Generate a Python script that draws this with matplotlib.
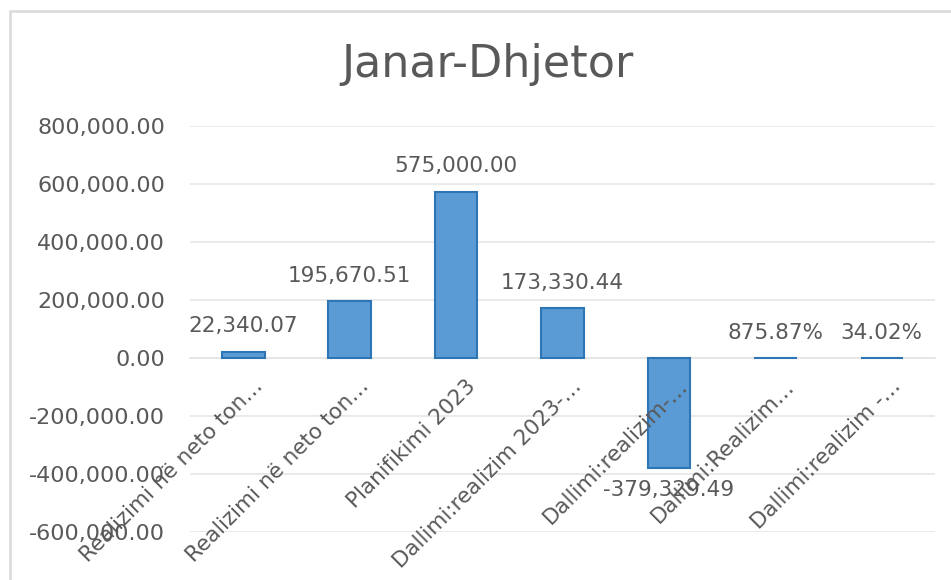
#importing the relevant modules
import matplotlib
matplotlib.use("Agg")
import matplotlib.pyplot as plt
from matplotlib.patches import Rectangle

#chart data
categories = ["Realizimi në neto ton…", "Realizimi në neto ton…", "Planifikimi 2023",
              "Dallimi:realizim 2023-…", "Dallimi:realizim-…", "Dallimi:Realizim…",
              "Dallimi:realizim -…"]
values = [22340.07, 195670.51, 575000.00, 173330.44, -379329.49, 8.7587, 0.3402]
value_labels = ["22,340.07", "195,670.51", "575,000.00", "173,330.44", "-379,329.49",
                "875.87%", "34.02%"]
yticks = [-600000, -400000, -200000, 0, 200000, 400000, 600000, 800000]

grey = "#595959"
plt.rcParams["font.family"] = ["DejaVu Sans"]

fig = plt.figure(figsize=(9.51, 5.8), dpi=100)
ax = fig.add_axes([190/951, 1-531.7/580, (935-190)/951, (531.7-126.4)/580])

#chart border (cut off at right and bottom)
fig.patches.append(Rectangle((10/951, -0.1), 1.2, 1-11/580+0.1, transform=fig.transFigure,
                             fill=False, edgecolor="#D9D9D9", linewidth=1.8))

#bars
x = list(range(len(categories)))
ax.bar(x, values, width=0.4, color="#5B9BD5", edgecolor="#2E75B6", linewidth=1.5, zorder=3)
ax.set_xlim(-0.5, len(categories)-0.5)
ax.set_ylim(-600000, 800000)

#grid and axes
ax.set_yticks(yticks)
ax.set_yticklabels(["{:,.2f}".format(v) for v in yticks], fontsize=16, color=grey)
ax.yaxis.grid(True, color="#E6E6E6", linewidth=1.2, zorder=0)
ax.tick_params(axis="y", length=0, pad=18)
for s in ["left", "right", "top"]:
    ax.spines[s].set_visible(False)
ax.spines["bottom"].set_position(("data", 0))
ax.spines["bottom"].set_color("#E6E6E6")
ax.spines["bottom"].set_linewidth(1.2)
ax.set_xticks(x)
ax.set_xticklabels([])
ax.tick_params(axis="x", length=0)

#category labels, rotated, hanging from the zero line and drawn over the bars
for xi, c in zip(x, categories):
    ax.annotate(c, (xi, 0), xytext=(6.5, -13), textcoords="offset points",
                rotation=45, rotation_mode="anchor", ha="right", va="top",
                fontsize=15.5, color=grey, zorder=6)

#data labels
for xi, v, t in zip(x, values, value_labels):
    if v >= 0:
        ax.annotate(t, (xi, v), xytext=(0, 11), textcoords="offset points",
                    ha="center", va="bottom", fontsize=15.5, color=grey, zorder=6)
    else:
        ax.annotate(t, (xi, v), xytext=(0, -9), textcoords="offset points",
                    ha="center", va="top", fontsize=15.5, color=grey, zorder=6)

#title
fig.text(487/951, 1-77/580, "Janar-Dhjetor", ha="center", va="baseline",
         fontsize=32, color=grey)

fig.savefig("out.png", dpi=100)
